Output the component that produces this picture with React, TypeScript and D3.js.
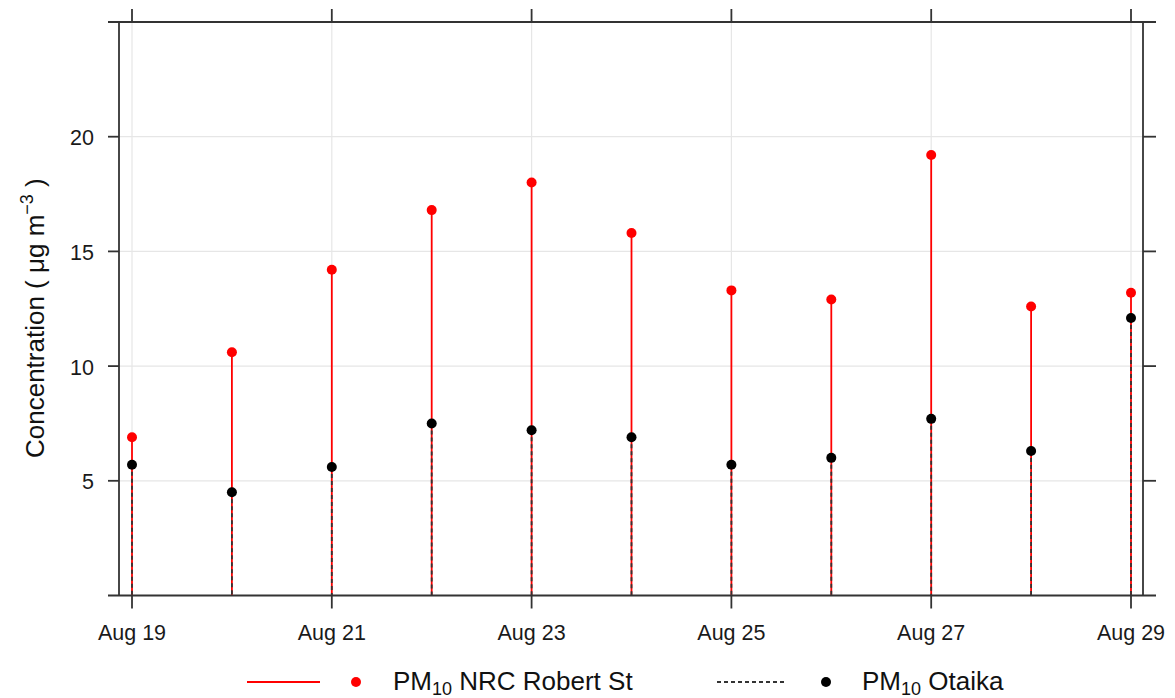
import * as d3 from 'd3';

const days = [19, 20, 21, 22, 23, 24, 25, 26, 27, 28, 29];
const robertSt = [6.9, 10.6, 14.2, 16.8, 18.0, 15.8, 13.3, 12.9, 19.2, 12.6, 13.2];
const otaika = [5.7, 4.5, 5.6, 7.5, 7.2, 6.9, 5.7, 6.0, 7.7, 6.3, 12.1];
const yTicks = [5, 10, 15, 20];

const FONT = '"Liberation Sans", Arial, sans-serif';
const AXIS = '#333';

export default function App() {
  const width = 1175;
  const height = 698;
  const dates = days.map((d) => new Date(Date.UTC(2020, 7, d)));
  const xTicks = dates.filter((_, i) => i % 2 === 0);

  const x = d3.scaleUtc().domain([dates[0], dates[dates.length - 1]]).range([132, 1131]);
  const y = d3.scaleLinear().domain([0, 25]).range([595.5, 22]);
  const fmt = d3.utcFormat('%b %-d');

  const left = 119;
  const right = 1143;
  const top = y(25);
  const bottom = y(0);
  const ext = 11;

  return (
    <svg
      width={width}
      height={height}
      style={{ position: 'absolute', left: 0, top: 0, background: '#fff' }}
      fontFamily={FONT}
    >
      {/* grid */}
      <g stroke="#e6e6e6" strokeWidth={1.2}>
        {yTicks.map((t) => (
          <line key={'gy' + t} x1={left} x2={right} y1={y(t)} y2={y(t)} />
        ))}
        {xTicks.map((d) => (
          <line key={'gx' + +d} x1={x(d)} x2={x(d)} y1={top} y2={bottom} />
        ))}
      </g>

      {/* stems */}
      <g stroke="#ff0000" strokeWidth={1.8}>
        {dates.map((d, i) => (
          <line key={'rs' + i} x1={x(d)} x2={x(d)} y1={y(robertSt[i])} y2={bottom} />
        ))}
      </g>
      <g stroke="#333" strokeWidth={1.8} strokeDasharray="4,3">
        {dates.map((d, i) => (
          <line key={'os' + i} x1={x(d)} x2={x(d)} y1={y(otaika[i])} y2={bottom} />
        ))}
      </g>

      {/* points */}
      <g fill="#ff0000">
        {dates.map((d, i) => (
          <circle key={'rp' + i} cx={x(d)} cy={y(robertSt[i])} r={5} />
        ))}
      </g>
      <g fill="#000">
        {dates.map((d, i) => (
          <circle key={'op' + i} cx={x(d)} cy={y(otaika[i])} r={5} />
        ))}
      </g>

      {/* frame */}
      <g stroke={AXIS} strokeWidth={1.8} fill="none">
        <line x1={left - ext} x2={right + 13} y1={top} y2={top} />
        <line x1={left - ext} x2={right + 13} y1={bottom} y2={bottom} />
        <line x1={left} x2={left} y1={top} y2={bottom} />
        <line x1={right} x2={right} y1={top} y2={bottom} />
        {xTicks.map((d) => (
          <g key={'tk' + +d}>
            <line x1={x(d)} x2={x(d)} y1={top} y2={top - 13} />
            <line x1={x(d)} x2={x(d)} y1={bottom} y2={bottom + 13} />
          </g>
        ))}
        {yTicks.map((t) => (
          <g key={'ty' + t}>
            <line x1={left - ext} x2={left} y1={y(t)} y2={y(t)} />
            <line x1={right} x2={right + 13} y1={y(t)} y2={y(t)} />
          </g>
        ))}
      </g>

      {/* tick labels */}
      <g fontSize={21.5} fill="#1a1a1a">
        {xTicks.map((d) => (
          <text key={'xl' + +d} x={x(d)} y={639.5} textAnchor="middle">
            {fmt(d)}
          </text>
        ))}
        {yTicks.map((t) => (
          <text key={'yl' + t} x={94} y={y(t) + 8.5} textAnchor="end">
            {t}
          </text>
        ))}
      </g>

      {/* y title */}
      <text transform="translate(44,458) rotate(-90)" textAnchor="start" fontSize={26} fill="#111">
        {'Concentration ( μg m'}
        <tspan fontSize={18} dy={-11}>−3</tspan>
        <tspan dy={11}>{' )'}</tspan>
      </text>

      {/* legend */}
      <g fill="#111">
        <line x1={247} x2={320} y1={682} y2={682} stroke="#ff0000" strokeWidth={1.8} />
        <circle cx={356} cy={682} r={5} fill="#ff0000" />
        <text x={393} y={690} fontSize={26}>
          PM
          <tspan fontSize={18} dy={5}>10</tspan>
          <tspan dy={-5}> NRC Robert St</tspan>
        </text>
        <line x1={717} x2={785} y1={682} y2={682} stroke="#333" strokeWidth={1.8} strokeDasharray="4,3" />
        <circle cx={826} cy={682} r={5} fill="#000" />
        <text x={862} y={690} fontSize={26}>
          PM
          <tspan fontSize={18} dy={5}>10</tspan>
          <tspan dy={-5}> Otaika</tspan>
        </text>
      </g>
    </svg>
  );
}
